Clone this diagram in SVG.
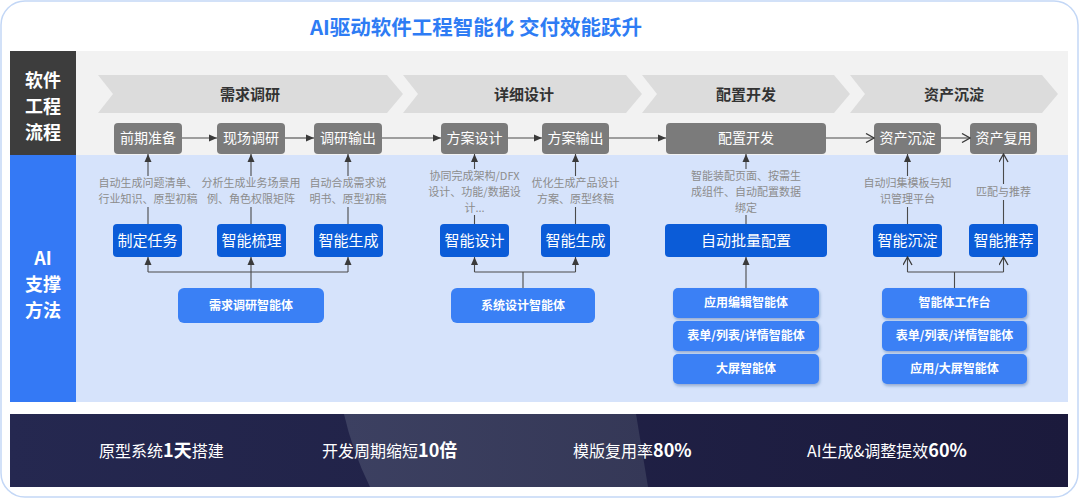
<svg xmlns="http://www.w3.org/2000/svg" width="1080" height="499" viewBox="0 0 1080 499">
<defs>
<style>
text{font-family:'Noto Sans CJK SC','Noto Sans',sans-serif;}
.side{fill:#fff;font-size:18px;font-weight:bold;text-anchor:middle;}
.chev{fill:#dcdcdc;}
.chevt{fill:#333;font-size:15px;font-weight:bold;text-anchor:middle;}
.gbox{fill:#7b7b7b;}
.gt{fill:#fff;font-size:14px;text-anchor:middle;}
.bbox{fill:#0b5cd8;}
.bt{fill:#fff;font-size:15px;text-anchor:middle;}
.abox{fill:#3a80f5;}
.sbox{fill:#3a80f5;filter:url(#sh);}
.at{fill:#fff;font-size:12px;font-weight:bold;text-anchor:middle;}
.desc{fill:#8c8c8c;font-size:11px;text-anchor:middle;}
.ln{stroke:#4a4a4a;stroke-width:1.1;fill:none;}
.stat{fill:#fff;font-size:16px;}
.stat tspan.b{font-weight:bold;font-size:18px;}
</style>
<marker id="af" viewBox="0 0 8 8" refX="8" refY="4" markerWidth="8" markerHeight="8" markerUnits="userSpaceOnUse" orient="auto"><path d="M0,0.5 L8,4 L0,7.5 z" fill="#3a3a3a"/></marker>
<marker id="ao" viewBox="0 0 10 10" refX="9" refY="5" markerWidth="10" markerHeight="10" markerUnits="userSpaceOnUse" orient="auto"><path d="M1,0.5 L9,5 L1,9.5" fill="none" stroke="#3a3a3a" stroke-width="1.3"/></marker>
<filter id="sh" x="-10%" y="-20%" width="120%" height="160%"><feDropShadow dx="1" dy="2" stdDeviation="1.5" flood-color="#1a3f80" flood-opacity="0.35"/></filter>
<linearGradient id="band" x1="0" y1="0" x2="1" y2="0">
<stop offset="0" stop-color="#252850"/><stop offset="1" stop-color="#1b1a3c"/>
</linearGradient>
<linearGradient id="hl" x1="0" y1="0" x2="1" y2="0">
<stop offset="0" stop-color="#3c4061"/><stop offset="1" stop-color="#353857"/>
</linearGradient>
</defs>

<rect x="1" y="1" width="1077" height="496" rx="24" fill="#fff" stroke="#c3d7f6" stroke-width="1.5"/>

<text id="title" x="476" y="35" font-size="20.5" font-weight="bold" fill="#2e7cf4" text-anchor="middle">AI驱动软件工程智能化 交付效能跃升</text>

<g id="panels">
<rect x="10" y="51" width="66" height="104" fill="#3d3d3d"/>
<rect x="76" y="51" width="992" height="104" fill="#f2f2f2"/>
<rect x="10" y="155" width="66" height="247" fill="#3479f5"/>
<rect x="76" y="155" width="992" height="247" fill="#d6e3fb"/>
<text class="side" x="43" y="87">软件</text>
<text class="side" x="43" y="113">工程</text>
<text class="side" x="43" y="139">流程</text>
<text class="side" x="43" y="265">AI</text>
<text class="side" x="43" y="291">支撑</text>
<text class="side" x="43" y="317">方法</text>
</g>

<g id="stages">
<path class="chev" d="M98,75 L387,75 L403,94 L387,113 L98,113 L113,94 Z"/>
<path class="chev" d="M403,75 L626,75 L642,94 L626,113 L403,113 L418,94 Z"/>
<path class="chev" d="M642,75 L834,75 L850,94 L834,113 L642,113 L657,94 Z"/>
<path class="chev" d="M850,75 L1042,75 L1058,94 L1042,113 L850,113 L865,94 Z"/>
<text class="chevt" x="250" y="100">需求调研</text>
<text class="chevt" x="524" y="100">详细设计</text>
<text class="chevt" x="746" y="100">配置开发</text>
<text class="chevt" x="954" y="100">资产沉淀</text>
</g>

<g id="process">
<g id="p1"><rect class="gbox" x="114" y="123" width="68" height="31" rx="4"/><text class="gt" x="148" y="143">前期准备</text></g>
<g id="p2"><rect class="gbox" x="217" y="123" width="68" height="31" rx="4"/><text class="gt" x="251" y="143">现场调研</text></g>
<g id="p3"><rect class="gbox" x="314" y="123" width="68" height="31" rx="4"/><text class="gt" x="348" y="143">调研输出</text></g>
<g id="p4"><rect class="gbox" x="441" y="123" width="67" height="31" rx="4"/><text class="gt" x="474.5" y="143">方案设计</text></g>
<g id="p5"><rect class="gbox" x="542" y="123" width="67" height="31" rx="4"/><text class="gt" x="575.5" y="143">方案输出</text></g>
<g id="p6"><rect class="gbox" x="666" y="123" width="160" height="31" rx="4"/><text class="gt" x="746" y="143">配置开发</text></g>
<g id="p7"><rect class="gbox" x="874" y="123" width="67" height="31" rx="4"/><text class="gt" x="907.5" y="143">资产沉淀</text></g>
<g id="p8"><rect class="gbox" x="970" y="123" width="67" height="31" rx="4"/><text class="gt" x="1003.5" y="143">资产复用</text></g>
</g>

<g id="descriptions">
<text class="desc" x="148" y="187">自动生成问题清单、</text><text class="desc" x="148" y="203">行业知识、原型初稿</text>
<text class="desc" x="251" y="187">分析生成业务场景用</text><text class="desc" x="251" y="203">例、角色权限矩阵</text>
<text class="desc" x="348" y="187">自动合成需求说</text><text class="desc" x="348" y="203">明书、原型初稿</text>
<text class="desc" x="474.5" y="180">协同完成架构/DFX</text><text class="desc" x="474.5" y="196">设计、功能/数据设</text><text class="desc" x="474.5" y="212">计...</text>
<text class="desc" x="575.5" y="187">优化生成产品设计</text><text class="desc" x="575.5" y="203">方案、原型终稿</text>
<text class="desc" x="746" y="180">智能装配页面、按需生</text><text class="desc" x="746" y="196">成组件、自动配置数据</text><text class="desc" x="746" y="212">绑定</text>
<text class="desc" x="907.5" y="187">自动归集模板与知</text><text class="desc" x="907.5" y="203">识管理平台</text>
<text class="desc" x="1003.5" y="196">匹配与推荐</text>
</g>

<g id="ai-methods">
<g id="m1"><rect class="bbox" x="113" y="224" width="69" height="33" rx="4"/><text class="bt" x="147.5" y="246">制定任务</text></g>
<g id="m2"><rect class="bbox" x="217" y="224" width="69" height="33" rx="4"/><text class="bt" x="251.5" y="246">智能梳理</text></g>
<g id="m3"><rect class="bbox" x="314" y="224" width="69" height="33" rx="4"/><text class="bt" x="348.5" y="246">智能生成</text></g>
<g id="m4"><rect class="bbox" x="440" y="224" width="69" height="33" rx="4"/><text class="bt" x="474.5" y="246">智能设计</text></g>
<g id="m5"><rect class="bbox" x="541" y="224" width="69" height="33" rx="4"/><text class="bt" x="575.5" y="246">智能生成</text></g>
<g id="m6"><rect class="bbox" x="665" y="224" width="162" height="33" rx="4"/><text class="bt" x="746" y="246">自动批量配置</text></g>
<g id="m7"><rect class="bbox" x="873" y="224" width="69" height="33" rx="4"/><text class="bt" x="907.5" y="246">智能沉淀</text></g>
<g id="m8"><rect class="bbox" x="969" y="224" width="69" height="33" rx="4"/><text class="bt" x="1003.5" y="246">智能推荐</text></g>
</g>

<g id="agents">
<g id="a1"><rect class="abox" x="178" y="288" width="146" height="35" rx="6"/><text class="at" x="251" y="310">需求调研智能体</text></g>
<g id="a2"><rect class="abox" x="451" y="288" width="144" height="35" rx="6"/><text class="at" x="523" y="310">系统设计智能体</text></g>
<g id="a3"><rect class="sbox" x="673" y="288" width="146" height="30" rx="5"/><text class="at" x="746" y="307">应用编辑智能体</text></g>
<g id="a4"><rect class="sbox" x="673" y="321" width="146" height="30" rx="5"/><text class="at" x="746" y="340">表单/列表/详情智能体</text></g>
<g id="a5"><rect class="sbox" x="673" y="354" width="146" height="30" rx="5"/><text class="at" x="746" y="373">大屏智能体</text></g>
<g id="a6"><rect class="sbox" x="882" y="288" width="145" height="30" rx="5"/><text class="at" x="954.5" y="307">智能体工作台</text></g>
<g id="a7"><rect class="sbox" x="882" y="321" width="145" height="30" rx="5"/><text class="at" x="954.5" y="340">表单/列表/详情智能体</text></g>
<g id="a8"><rect class="sbox" x="882" y="354" width="145" height="30" rx="5"/><text class="at" x="954.5" y="373">应用/大屏智能体</text></g>
</g>

<g id="connectors">
<line class="ln" x1="182" y1="138" x2="217" y2="138" marker-end="url(#af)"/>
<line class="ln" x1="285" y1="138" x2="314" y2="138" marker-end="url(#af)"/>
<line class="ln" x1="382" y1="138" x2="441" y2="138" marker-end="url(#af)"/>
<line class="ln" x1="508" y1="138" x2="542" y2="138" marker-end="url(#af)"/>
<line class="ln" x1="609" y1="138" x2="666" y2="138" marker-end="url(#af)"/>
<line class="ln" x1="826" y1="138" x2="874" y2="138" marker-end="url(#ao)"/>
<line class="ln" x1="941" y1="138" x2="970" y2="138" marker-end="url(#ao)"/>

<line class="ln" x1="148" y1="176" x2="148" y2="154" marker-end="url(#af)"/>
<line class="ln" x1="148" y1="224" x2="148" y2="207"/>
<line class="ln" x1="251" y1="176" x2="251" y2="154" marker-end="url(#af)"/>
<line class="ln" x1="251" y1="224" x2="251" y2="207"/>
<line class="ln" x1="348" y1="176" x2="348" y2="154" marker-end="url(#af)"/>
<line class="ln" x1="348" y1="224" x2="348" y2="207"/>
<line class="ln" x1="474.5" y1="169" x2="474.5" y2="154" marker-end="url(#af)"/>
<line class="ln" x1="474.5" y1="224" x2="474.5" y2="215"/>
<line class="ln" x1="575.5" y1="176" x2="575.5" y2="154" marker-end="url(#af)"/>
<line class="ln" x1="575.5" y1="224" x2="575.5" y2="207"/>
<line class="ln" x1="746" y1="169" x2="746" y2="154" marker-end="url(#af)"/>
<line class="ln" x1="746" y1="224" x2="746" y2="215"/>
<line class="ln" x1="907.5" y1="176" x2="907.5" y2="154" marker-end="url(#af)"/>
<line class="ln" x1="907.5" y1="224" x2="907.5" y2="207"/>
<line class="ln" x1="1003.5" y1="184" x2="1003.5" y2="154" marker-end="url(#ao)"/>
<line class="ln" x1="1003.5" y1="224" x2="1003.5" y2="200"/>

<path class="ln" d="M251,288 L251,272"/>
<path class="ln" d="M148,272 L348,272"/>
<line class="ln" x1="148" y1="272" x2="148" y2="257" marker-end="url(#af)"/>
<line class="ln" x1="251" y1="272" x2="251" y2="257" marker-end="url(#af)"/>
<line class="ln" x1="348" y1="272" x2="348" y2="257" marker-end="url(#af)"/>

<path class="ln" d="M523,288 L523,272"/>
<path class="ln" d="M474.5,272 L575.5,272"/>
<line class="ln" x1="474.5" y1="272" x2="474.5" y2="257" marker-end="url(#af)"/>
<line class="ln" x1="575.5" y1="272" x2="575.5" y2="257" marker-end="url(#af)"/>

<line class="ln" x1="746" y1="288" x2="746" y2="257" marker-end="url(#af)"/>

<path class="ln" d="M954.5,288 L954.5,272"/>
<path class="ln" d="M907.5,272 L1003.5,272"/>
<line class="ln" x1="907.5" y1="272" x2="907.5" y2="257" marker-end="url(#ao)"/>
<line class="ln" x1="1003.5" y1="272" x2="1003.5" y2="257" marker-end="url(#ao)"/>
</g>

<g id="stats">
<rect x="10" y="414" width="1058" height="73" fill="url(#band)"/>
<path d="M344,414 L636,414 L648,487 L370,487 Q352,450 344,414 Z" fill="url(#hl)"/>
<text class="stat" x="99" y="457">原型系统<tspan class="b">1天</tspan>搭建</text>
<text class="stat" x="322" y="457">开发周期缩短<tspan class="b">10倍</tspan></text>
<text class="stat" x="573" y="457">模版复用率<tspan class="b">80%</tspan></text>
<text class="stat" x="807" y="457">AI生成&amp;调整提效<tspan class="b">60%</tspan></text>
</g>
</svg>
